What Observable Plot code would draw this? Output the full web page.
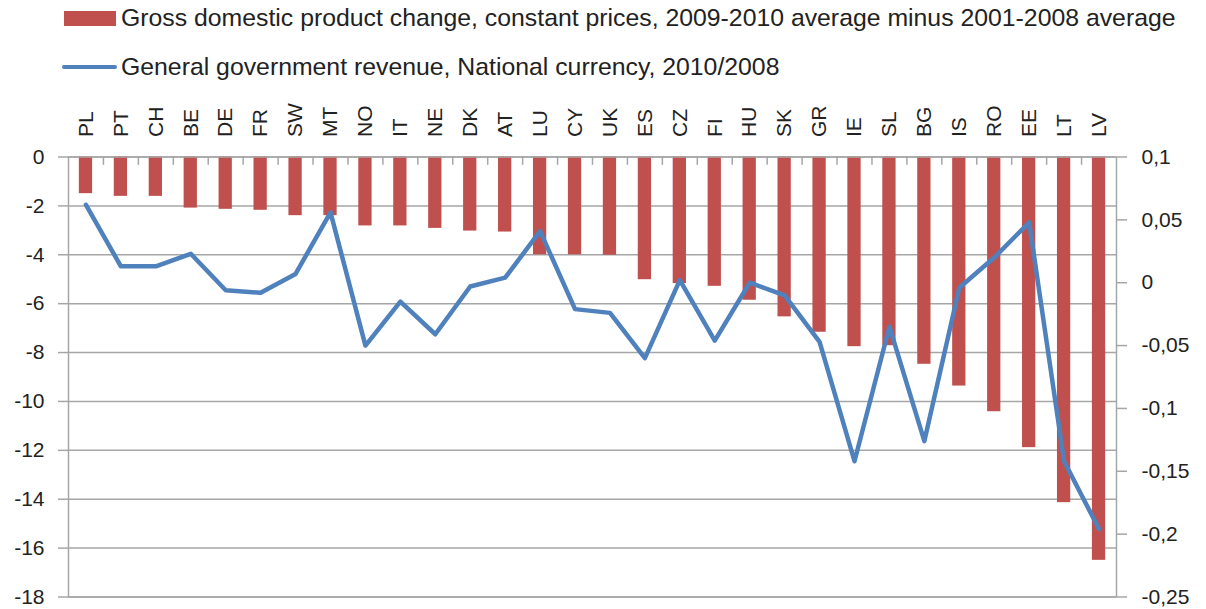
<!DOCTYPE html>
<html>
<head>
<meta charset="utf-8">
<script src="https://cdn.jsdelivr.net/npm/d3@7"></script>
<script src="https://cdn.jsdelivr.net/npm/@observablehq/plot@0.6"></script>
<style>
  html, body { margin: 0; padding: 0; background: #fff; }
  body { font-family: "Liberation Sans", Arial, sans-serif; color: #222; width: 1206px; height: 609px; overflow: hidden; }
  #legend { position: relative; width: 1206px; height: 85px; }
  .item { position: absolute; display: flex; align-items: center; height: 30px; font-size: 24.8px; white-space: nowrap; color: #222; }
  .swatch { width: 52px; height: 15px; background: #c0504d; margin-right: 5px; }
  .lineSw { width: 55px; height: 4.5px; background: #4f81bd; border-radius: 3px; margin-right: 4px; }
  #chart svg { display: block; }
  #chart svg text { font-size: 21px !important; fill: #222; }
</style>
</head>
<body>
<div id="legend"></div>
<div id="chart"></div>
<script>
// ---- data ----
const countries = ["PL","PT","CH","BE","DE","FR","SW","MT","NO","IT","NE","DK","AT","LU","CY","UK","ES","CZ","FI","HU","SK","GR","IE","SL","BG","IS","RO","EE","LT","LV"];
const gdpChange = [-1.50,-1.61,-1.61,-2.09,-2.14,-2.18,-2.40,-2.40,-2.82,-2.82,-2.92,-3.03,-3.07,-4.00,-4.00,-4.02,-5.02,-5.18,-5.29,-5.86,-6.54,-7.17,-7.76,-7.72,-8.48,-9.37,-10.42,-11.89,-14.14,-16.50];
const revenue = [0.062,0.013,0.013,0.023,-0.006,-0.008,0.007,0.056,-0.050,-0.015,-0.041,-0.003,0.004,0.041,-0.021,-0.024,-0.060,0.002,-0.046,0.000,-0.010,-0.047,-0.142,-0.035,-0.126,-0.004,0.020,0.048,-0.142,-0.196];
const leftTicks = [0,-2,-4,-6,-8,-10,-12,-14,-16,-18];
const rightTicks = [0.1,0.05,0,-0.05,-0.1,-0.15,-0.2,-0.25];
const seriesNames = [
  "Gross domestic product change, constant prices, 2009-2010 average minus 2001-2008 average",
  "General government revenue, National currency, 2010/2008"
];

// ---- legend ----
const legend = document.getElementById("legend");
legend.innerHTML =
  `<div class="item" style="left:64px;top:3px"><span class="swatch"></span><span>${seriesNames[0]}</span></div>` +
  `<div class="item" style="left:62px;top:52px"><span class="lineSw"></span><span>${seriesNames[1]}</span></div>`;

// ---- chart ----
const rows = countries.map((c, i) => ({country: c, gdp: gdpChange[i], rev: revenue[i]}));
const leftMin = -18, leftMax = 0, rightMin = -0.25, rightMax = 0.1;
const toLeft = v => leftMin + (v - rightMin) * (leftMax - leftMin) / (rightMax - rightMin);

const W = 1206, H = 524, mL = 68, mR = 90, mT = 71.5, mB = 12.5;
const step = (W - mL - mR) / countries.length;
const gridColor = "#a6a6a6";
const fmtLeft = d => String(d);
const fmtRight = d => String(d).replace(".", ",");

const chart = Plot.plot({
  width: W, height: H,
  marginLeft: mL, marginRight: mR, marginTop: mT, marginBottom: mB,
  style: {fontFamily: "Liberation Sans, Arial, sans-serif", fontSize: "21px", color: "#222", background: "#fff"},
  x: {type: "band", domain: countries, paddingInner: 0.62, paddingOuter: 0.31, round: false, axis: null},
  y: {domain: [leftMin, leftMax], axis: null},
  marks: [
    Plot.gridY(leftTicks, {stroke: gridColor, strokeOpacity: 1, strokeWidth: 1.5}),
    Plot.barY(rows, {x: "country", y: "gdp", fill: "#c0504d"}),
    Plot.frame({stroke: gridColor, strokeWidth: 1.5}),
    Plot.ruleX(countries.slice(0, -1), {x: d => d, dx: step / 2, y1: 0, y2: -0.34, stroke: gridColor, strokeWidth: 1.5}),
    Plot.axisX({anchor: "top", tickSize: 0, tickPadding: 20, tickRotate: -90, label: null, fontSize: 21, fill: "#222"}),
    Plot.axisY(leftTicks, {anchor: "left", tickSize: 10, tickPadding: 14, tickFormat: fmtLeft, label: null, stroke: gridColor, strokeWidth: 1.5, fill: "#222", fontSize: 21}),
    Plot.axisY(rightTicks, {anchor: "right", y: d => toLeft(d), tickSize: 10, tickPadding: 15, tickFormat: fmtRight, label: null, stroke: gridColor, strokeWidth: 1.5, fill: "#222", fontSize: 21}),
    Plot.line(rows, {x: "country", y: d => toLeft(d.rev), stroke: "#4f81bd", strokeWidth: 4.5, strokeLinejoin: "round", strokeLinecap: "round"})
  ]
});
document.getElementById("chart").appendChild(chart);
</script>
</body>
</html>
